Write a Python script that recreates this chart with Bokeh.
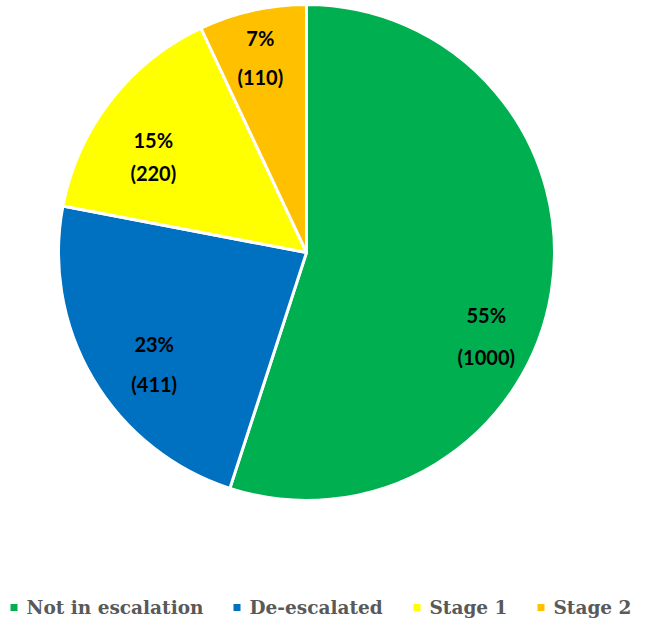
import math
from bokeh.plotting import figure
from bokeh.models import Range1d, ColumnDataSource
from bokeh.embed import file_html
from bokeh.resources import INLINE
from bokeh.core.properties import value

# ---- data ----
categories = ["Not in escalation", "De-escalated", "Stage 1", "Stage 2"]
percents = [55, 23, 15, 7]
counts = [1000, 411, 220, 110]
colors = ["#00B050", "#0070C0", "#FFFF00", "#FFC000"]

# ---- layout (y measured upward from the bottom of the figure) ----
W, H = 639, 618
CX, CY, R = 306, 366, 248
label_rfrac = [0.80, 0.76, 0.73, 0.81]
label_nudge = [16, -5.5, -5.6, -0.7]
label_gap = [42, 40, 33, 39]
legend_y = 11
legend_sq_x = [13.5, 236.5, 416.5, 540.5]
legend_tx_x = [26, 249, 429, 553]

starts, ends, px, py, cx_, cy_ = [], [], [], [], [], []
cum = 0.0
for i, pct in enumerate(percents):
    a0, a1 = cum, cum + pct
    starts.append(math.radians(90 - a1 * 3.6))
    ends.append(math.radians(90 - a0 * 3.6))
    mid = math.radians((a0 + a1) / 2 * 3.6 + label_nudge[i])
    rr = R * label_rfrac[i]
    x = CX + rr * math.sin(mid)
    y = CY + rr * math.cos(mid)
    px.append(x); py.append(y + label_gap[i] / 2)
    cx_.append(x); cy_.append(y - label_gap[i] / 2)
    cum = a1

src = ColumnDataSource(dict(start=starts, end=ends, color=colors, cat=categories))

p = figure(width=W, height=H, x_range=Range1d(0, W), y_range=Range1d(0, H),
           output_backend="svg", toolbar_location=None, min_border=0,
           x_axis_type=None, y_axis_type=None)
p.grid.visible = False
p.outline_line_color = None
p.background_fill_color = "white"
p.border_fill_color = "white"

p.wedge(x=CX, y=CY, radius=R, start_angle="start", end_angle="end",
        fill_color="color", line_color="white", line_width=3, source=src)

p.text(x=px, y=py, text=[f"{v}%" for v in percents],
       text_font=value("Lato"), text_font_style="bold", text_font_size="20px",
       text_align="center", text_baseline="middle", text_color="black")
p.text(x=cx_, y=cy_, text=[f"({v})" for v in counts],
       text_font=value("Lato"), text_font_style="bold", text_font_size="20px",
       text_align="center", text_baseline="middle", text_color="black")

# legend
p.scatter(x=legend_sq_x, y=[legend_y] * 4, marker="square", size=7,
          fill_color=colors, line_color=None)
p.text(x=legend_tx_x, y=[legend_y] * 4, text=categories,
       text_font=value("DejaVu Serif"), text_font_style="bold", text_font_size="18.5px",
       text_align="left", text_baseline="middle", text_color="#595959")

open("out.html", "w").write(file_html(p, INLINE))
